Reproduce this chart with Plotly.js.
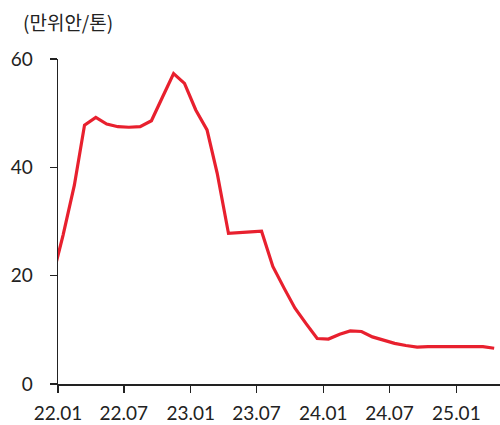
<!DOCTYPE html>
<html>
<head>
<meta charset="utf-8">
<script src="https://cdn.plot.ly/plotly-3.0.1.min.js"></script>
<style>html,body{margin:0;padding:0;background:#fff;}#chart{width:500px;height:425px;}</style>
</head>
<body>
<div id="chart"></div>
<script>
const dates = [
  '2021-12-15',
  '2022-01-15','2022-02-15','2022-03-15','2022-04-15','2022-05-15','2022-06-15',
  '2022-07-15','2022-08-15','2022-09-15','2022-10-15','2022-11-15','2022-12-15',
  '2023-01-15','2023-02-15','2023-03-15','2023-04-15','2023-05-15','2023-06-15',
  '2023-07-15','2023-08-15','2023-09-15','2023-10-15','2023-11-15','2023-12-15',
  '2024-01-15','2024-02-15','2024-03-15','2024-04-15','2024-05-15','2024-06-15',
  '2024-07-15','2024-08-15','2024-09-15','2024-10-15','2024-11-15','2024-12-15',
  '2025-01-15','2025-02-15','2025-03-15','2025-04-15'
];
const prices = [
  19.2,
  27.5, 36.7, 47.8, 49.2, 48.0, 47.5,
  47.4, 47.5, 48.6, 52.9, 57.3, 55.5,
  50.6, 46.9, 38.9, 27.8, 28.0, 28.1,
  28.2, 21.7, 17.7, 14.0, 11.1, 8.4,
  8.3, 9.2, 9.8, 9.7, 8.7, 8.1,
  7.5, 7.1, 6.8, 6.9, 6.9, 6.9,
  6.9, 6.9, 6.9, 6.6
];
const xTickVals = ['2022-01-01','2022-07-01','2023-01-01','2023-07-01','2024-01-01','2024-07-01','2025-01-01'];
const xTickText = ['22.01','22.07','23.01','23.07','24.01','24.07','25.01'];
const yTickVals = [0, 20, 40, 60];
const unitLabel = '(만위안/톤)';

const tickFont = {family: 'Lato, "Noto Sans", sans-serif', size: 19, color: '#222'};

Plotly.newPlot('chart', [{
  x: dates, y: prices, type: 'scatter', mode: 'lines',
  line: {color: '#e8202e', width: 3.2}, hoverinfo: 'skip', showlegend: false
}], {
  width: 500, height: 425,
  margin: {l: 58, r: 0, t: 59, b: 41, pad: 0},
  paper_bgcolor: '#fff', plot_bgcolor: '#fff',
  xaxis: {
    type: 'date', range: ['2022-01-01', '2025-05-01'],
    tickmode: 'array', tickvals: xTickVals, ticktext: xTickText,
    ticks: 'outside', ticklen: 7, tickwidth: 1.5, tickcolor: '#222',
    showline: true, linecolor: '#222', linewidth: 1.5,
    showgrid: false, zeroline: false, tickfont: tickFont, ticklabelstandoff: 5
  },
  yaxis: {
    range: [0, 60], tickmode: 'array', tickvals: yTickVals,
    ticks: 'outside', ticklen: 7, tickwidth: 1.5, tickcolor: '#222',
    showline: true, linecolor: '#222', linewidth: 1.5,
    showgrid: false, zeroline: false, tickfont: tickFont, ticklabelstandoff: 13
  },
  annotations: [{
    text: unitLabel, xref: 'paper', yref: 'paper',
    x: -37/442, y: 1 + 38/325, xanchor: 'left', yanchor: 'middle',
    showarrow: false,
    font: {family: '"Noto Sans CJK KR", sans-serif', size: 19, color: '#222'}
  }]
}, {displayModeBar: false, staticPlot: true});
</script>
</body>
</html>
